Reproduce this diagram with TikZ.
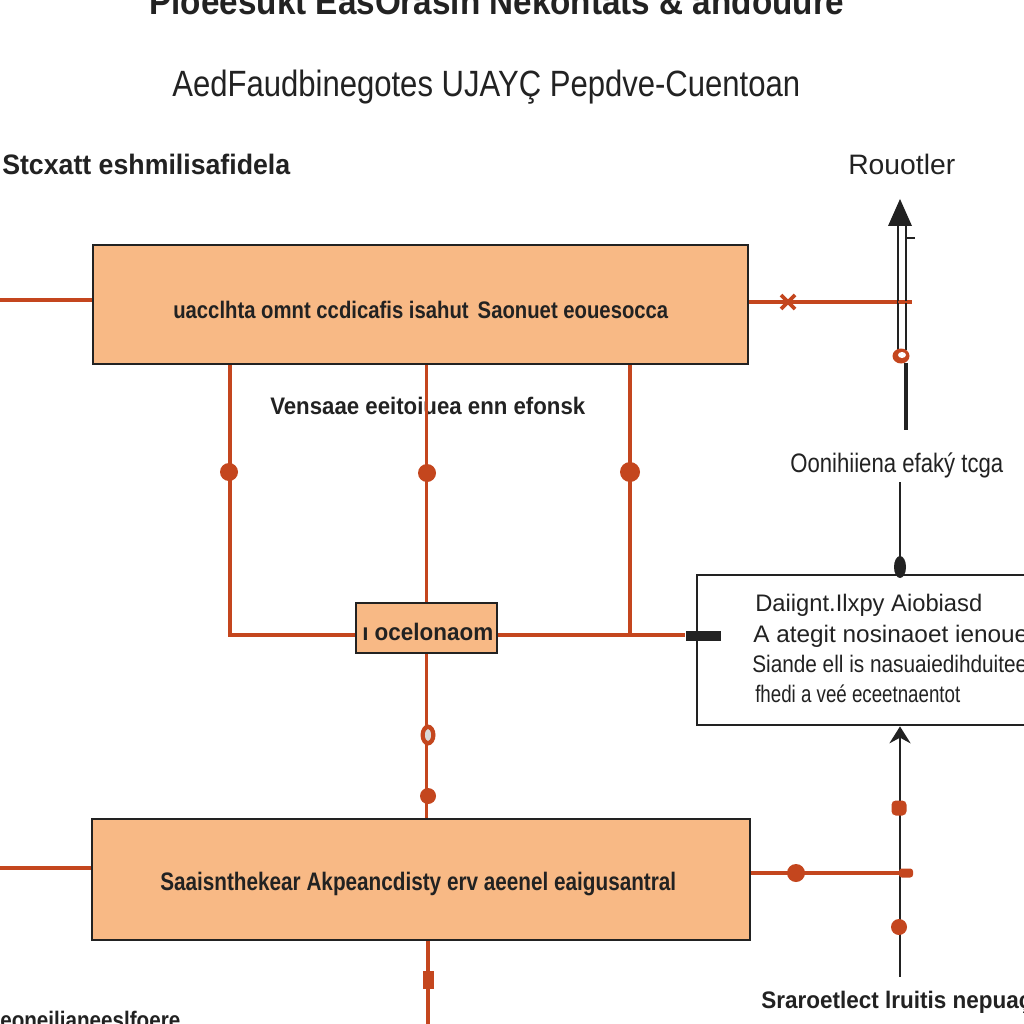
\documentclass[tikz,border=0pt]{standalone}
\usepackage{fontspec}
\setmainfont{Liberation Sans}
\usetikzlibrary{arrows.meta,shapes.geometric}
\newlength\pxu \setlength\pxu{0.025cm}
\newcommand\fitw[2]{\resizebox{#1\pxu}{\height}{#2}}
\definecolor{boxfill}{HTML}{F8B985}
\definecolor{wirec}{HTML}{C4461E}
\definecolor{ink}{HTML}{222222}
\begin{document}
\begin{tikzpicture}[x=0.025cm,y=-0.025cm,
  box/.style={draw=ink, line width=2pt, fill=boxfill, inner sep=0pt},
  wbox/.style={draw=ink, line width=2pt, fill=white, inner sep=0pt},
  wire/.style={draw=wirec, line width=2.2pt},
  blk/.style={draw=ink, line width=2pt},
  thin/.style={draw=ink, line width=1pt},
  txt/.style={inner sep=0pt, anchor=base west, text=ink},
  rdot/.style={circle, fill=wirec, inner sep=0pt, minimum size=18\pxu},
  sdot/.style={circle, fill=wirec, inner sep=0pt, minimum size=16\pxu}]
\useasboundingbox (0,0) rectangle (1024,1024);
\fill[white] (0,0) rectangle (1024,1024);

% titles and labels
\node[txt, anchor=base] (title1) at (497,15) {\fontsize{26}{30}\bfseries\fitw{695}{Pioeesukt EasOrasih Nekontats \& andouure}};
\node[txt] (title2) at (172,97) {\fontsize{26}{30}\selectfont\fitw{628}{AedFaudbinegotes UJAYÇ Pepdve-Cuentoan}};
\node[txt] (lblTL) at (2,175) {\fontsize{20}{24}\bfseries\fitw{288}{Stcxatt eshmilisafidela}};
\node[txt] (lblRouter) at (848,175) {\fontsize{20}{24}\selectfont\fitw{107}{Rouotler}};
\node[txt] (lblMid) at (270,414) {\fontsize{17}{20}\bfseries\fitw{315}{Vensaae eeitoiuea enn efonsk}};
\node[txt] (lblR) at (790,472) {\fontsize{19}{22}\selectfont\fitw{213}{Oonihiiena efaký tcga}};
\node[txt] (lblBR) at (761,1008) {\fontsize{17}{20}\bfseries\fitw{270}{Sraroetlect lruitis nepuaç}};
\node[txt] (lblBL) at (0,1028) {\fontsize{17}{20}\bfseries\fitw{180}{eoneilianeeslfoere}};

% boxes
\node[box, minimum width=655\pxu, minimum height=119\pxu] (b1) at (420.5,304.5) {};
\node[txt] (t1) at (173,318) {\fontsize{17}{20}\bfseries\fitw{495}{uacclhta omnt ccdicafis isahut\, Saonuet eouesocca}};
\node[wbox, minimum width=345\pxu, minimum height=150\pxu] (b2) at (869.5,650) {};
\node[txt] (t2a) at (755,611) {\fontsize{17}{20}\selectfont\fitw{227}{Daiignt.Ilxpy Aiobiasd}};
\node[txt] (t2b) at (753,642) {\fontsize{17}{20}\selectfont\fitw{275}{A ategit nosinaoet ienoue}};
\node[txt] (t2c) at (752,672) {\fontsize{17}{20}\selectfont\fitw{275}{Siande ell is nasuaiedihduitee}};
\node[txt] (t2d) at (755,702) {\fontsize{17}{20}\selectfont\fitw{205}{fhedi a veé eceetnaentot}};
\node[box, minimum width=141\pxu, minimum height=50\pxu] (sb) at (426.5,628) {};
\node[txt] (tsb) at (362,640) {\fontsize{17}{20}\bfseries\fitw{131}{ı ocelonaom}};
\node[box, minimum width=658\pxu, minimum height=121\pxu] (b3) at (421,879.5) {};
\node[txt] (t3) at (160,890) {\fontsize{18}{21}\bfseries\fitw{516}{Saaisnthekear Akpeancdisty erv aeenel eaigusantral}};

% coordinates
\coordinate (L1) at (0,300);
\coordinate (R1) at (912,302);
\coordinate (v1) at (230,635);
\coordinate (v3) at (630,635);
\coordinate (L3) at (0,868);
\coordinate (R3) at (913,873);
\coordinate (bot) at (428,1030);
\node[fill=ink, inner sep=0pt, minimum width=35\pxu, minimum height=10\pxu] (bar) at (703,636) {};

% orange wires
\draw[wire] (L1) -- (L1 -| b1.west);
\draw[wire] (b1.east |- R1) -- (R1);
\draw[wire, line width=2.6pt] (781,295) -- (795,309) (781,309) -- (795,295);
\draw[wire] (v1 |- b1.south) -- (v1) -- (v1 -| sb.west);
\draw[wire] (sb.north |- b1.south) -- (sb.north);
\draw[wire] (v3 |- b1.south) -- (v3);
\draw[wire] (sb.east |- v1) -- (v1 -| bar.west);
\draw[wire] (sb.south) -- (sb.south |- b3.north);
\draw[wire] (bot |- b3.south) -- (bot);
\draw[wire] (L3) -- (L3 -| b3.west);
\draw[wire] (b3.east |- R3) -- (R3);

\node[rdot] (d1) at (229,472) {};
\node[rdot] (d2) at (427,473) {};
\node[rdot, minimum size=20\pxu] (d3) at (630,472) {};
\node[ellipse, fill=wirec, inner sep=0pt, minimum width=15\pxu, minimum height=21\pxu] (d4) at (428,735) {};
\fill[white!70!gray] (428,735) ellipse (3 and 6);
\node[sdot] (d5) at (428,796) {};
\node[fill=wirec, inner sep=0pt, minimum width=11\pxu, minimum height=18\pxu] (d6) at (428,980) {};
\node[rdot] (d7) at (796,873) {};

% router and right black lines
\fill[ink] (888,226) -- (900,199) -- (912,226) -- cycle;
\coordinate (ra) at (898,226);
\coordinate (rb) at (906,226);
\draw[thin] (ra) -- ++(0,124);
\draw[thin] (rb) -- ++(0,124);
\draw[thin] (906,238) -- (915,238);
\draw[wire, line width=1.2pt] (R1 -| ra) -- (R1);
\node[ellipse, fill=wirec, inner sep=0pt, minimum width=17\pxu, minimum height=15\pxu] (ring) at (901,356) {};
\fill[white] (902,355) ellipse (4 and 3);
\draw[blk, line width=2.4pt] (906,363) -- (906,430);
\coordinate (rtop) at (900,482);
\draw[blk] (rtop) -- (rtop |- b2.north);
\fill[ink] (900,567) ellipse (6 and 11);
\coordinate (rbot) at (900,977);
\draw[blk, {Stealth[length=12pt,width=15pt,inset=4pt]}-] (rbot |- b2.south) -- (rbot);
\node[fill=wirec, inner sep=0pt, minimum width=15\pxu, minimum height=15\pxu, rounded corners=3pt] (d8) at (899,808) {};
\node[fill=wirec, inner sep=0pt, minimum width=14\pxu, minimum height=9\pxu, rounded corners=2pt] (d9) at (906,873) {};
\node[sdot] (d10) at (899,927) {};
\end{tikzpicture}
\end{document}
